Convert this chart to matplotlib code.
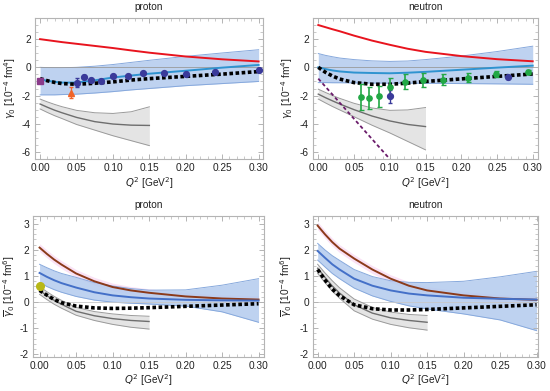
import matplotlib
matplotlib.use("Agg")
import matplotlib.pyplot as plt
from matplotlib.ticker import MultipleLocator, FormatStrFormatter

plt.rcParams['font.family'] = ['Liberation Sans', 'DejaVu Sans']
plt.rcParams['mathtext.fontset'] = 'dejavusans'

# ---------------- data ----------------
q = [0, 0.01, 0.02, 0.03, 0.05, 0.075, 0.10, 0.125, 0.15, 0.20, 0.25, 0.30]
qg = [0, 0.01, 0.02, 0.03, 0.05, 0.075, 0.10, 0.125, 0.15]

# proton gamma0
p_red = [2.0, 1.93, 1.86, 1.79, 1.67, 1.52, 1.37, 1.2, 1.04, 0.77, 0.57, 0.42]
p_band_hi = [0.0, -0.02, -0.03, -0.03, 0.0, 0.08, 0.2, 0.35, 0.5, 0.78, 1.02, 1.25]
p_band_lo = [-1.95, -1.95, -1.95, -1.93, -1.9, -1.82, -1.72, -1.6, -1.5, -1.3, -1.15, -1.0]
p_blue = [-0.85, -0.95, -1.03, -1.08, -1.08, -0.92, -0.72, -0.58, -0.45, -0.24, -0.02, 0.17]
p_black = [-0.8, -0.95, -1.07, -1.15, -1.2, -1.13, -1.03, -0.9, -0.8, -0.64, -0.48, -0.3]
p_gray = [-2.6, -2.83, -3.04, -3.22, -3.55, -3.85, -4.02, -4.1, -4.12]
p_gray_hi = [-2.25, -2.45, -2.63, -2.79, -3.05, -3.22, -3.27, -3.15, -2.8]
p_gray_lo = [-2.95, -3.2, -3.43, -3.63, -4.05, -4.45, -4.85, -5.2, -5.55]
p_data_x = [0.051, 0.060, 0.070, 0.084, 0.100, 0.121, 0.141, 0.170, 0.200, 0.240, 0.300]
p_data_y = [-1.08, -0.65, -0.92, -1.0, -0.6, -0.6, -0.38, -0.42, -0.45, -0.3, -0.18]
p_data_e = [0.3, 0.12, 0.1, 0.1, 0.08, 0.08, 0.08, 0.08, 0.1, 0.1, 0.1]
p_sq = (0.0, -0.95)
p_tri = (0.043, -1.8, 0.4)

# neutron gamma0
n_red = [3.0, 2.85, 2.7, 2.56, 2.25, 1.9, 1.6, 1.32, 1.1, 0.8, 0.58, 0.43]
n_band_hi = [0.98, 0.85, 0.75, 0.66, 0.55, 0.46, 0.42, 0.45, 0.55, 0.8, 1.12, 1.5]
n_band_lo = [-1.08, -1.08, -1.09, -1.09, -1.1, -1.11, -1.12, -1.12, -1.13, -1.15, -1.17, -1.2]
n_blue = [0.0, -0.12, -0.22, -0.29, -0.37, -0.4, -0.42, -0.38, -0.32, -0.17, -0.02, 0.12]
n_black = [0.0, -0.35, -0.62, -0.83, -1.08, -1.2, -1.2, -1.12, -1.0, -0.82, -0.64, -0.47]
n_gray = [-1.9, -2.15, -2.38, -2.6, -3.0, -3.45, -3.8, -4.05, -4.2]
n_gray_hi = [-1.55, -1.78, -2.0, -2.2, -2.55, -2.88, -3.05, -3.02, -2.85]
n_gray_lo = [-2.25, -2.52, -2.78, -3.02, -3.5, -4.1, -4.65, -5.25, -5.85]
n_dash_x = [0.0, 0.10]
n_dash_y = [-0.8, -6.5]
n_green_x = [0.060, 0.071, 0.085, 0.101, 0.121, 0.146, 0.174, 0.209, 0.249, 0.293]
n_green_y = [-2.12, -2.16, -2.05, -1.36, -1.01, -0.87, -0.87, -0.75, -0.47, -0.33]
n_green_e = [0.92, 0.79, 0.73, 0.59, 0.56, 0.5, 0.41, 0.32, 0.24, 0.15]
n_navy_x = [0.101, 0.266]
n_navy_y = [-2.05, -0.7]
n_navy_e = [0.45, 0.1]

# proton gamma0-bar
pb_brown = [2.09, 1.85, 1.63, 1.44, 1.1, 0.8, 0.58, 0.45, 0.36, 0.22, 0.14, 0.1]
pb_band_hi = [1.45, 1.32, 1.2, 1.1, 0.95, 0.75, 0.62, 0.52, 0.46, 0.47, 0.65, 0.9]
pb_band_lo = [0.75, 0.6, 0.48, 0.38, 0.22, 0.08, 0.0, -0.04, -0.07, -0.15, -0.37, -0.77]
pb_blue = [1.12, 0.97, 0.84, 0.73, 0.56, 0.38, 0.26, 0.19, 0.14, 0.09, 0.07, 0.06]
pb_black = [0.45, 0.27, 0.1, -0.02, -0.15, -0.22, -0.24, -0.23, -0.21, -0.16, -0.11, -0.06]
pb_gray = [0.45, 0.25, 0.07, -0.08, -0.35, -0.52, -0.63, -0.7, -0.74]
pb_gray_hi = [0.6, 0.4, 0.22, 0.07, -0.2, -0.36, -0.45, -0.51, -0.54]
pb_gray_lo = [0.3, 0.1, -0.08, -0.23, -0.5, -0.7, -0.85, -0.96, -1.03]
pb_point = (0.0, 0.6)

# neutron gamma0-bar
nb_brown = [2.93, 2.6, 2.3, 2.05, 1.67, 1.25, 0.9, 0.63, 0.45, 0.26, 0.14, 0.09]
nb_band_hi = [2.25, 2.0, 1.78, 1.6, 1.25, 0.98, 0.82, 0.76, 0.75, 0.8, 0.97, 1.18]
nb_band_lo = [1.61, 1.35, 1.1, 0.9, 0.54, 0.24, 0.03, -0.14, -0.26, -0.45, -0.68, -1.09]
nb_blue = [1.96, 1.7, 1.45, 1.25, 0.9, 0.63, 0.45, 0.33, 0.26, 0.17, 0.13, 0.1]
nb_black = [1.25, 0.85, 0.5, 0.25, -0.1, -0.25, -0.3, -0.3, -0.28, -0.22, -0.16, -0.1]
nb_gray = [1.3, 0.95, 0.62, 0.35, -0.1, -0.42, -0.6, -0.7, -0.77]
nb_gray_hi = [1.45, 1.12, 0.82, 0.55, 0.12, -0.2, -0.38, -0.47, -0.51]
nb_gray_lo = [1.1, 0.75, 0.42, 0.15, -0.33, -0.65, -0.85, -0.98, -1.07]

pink_halfwidth = 0.15

# ---------------- style ----------------
RED = '#e8141e'
BAND = '#b3cbee'
BAND_EDGE = '#86a8dc'
BLUE_TOP = '#2f93d0'
BLUE_BOT = '#4470c8'
BROWN = '#8b3a1a'
PINK = '#f8d6f2'
GFILL = '#e2e2e2'
GEDGE = '#9a9a9a'
GCENT = '#6e6e6e'
NAVY = '#3a3a9a'
GREEN = '#22a845'
FRAME = '#b4b4b4'
TXT = '#222222'
FS = 7.3

fig = plt.figure(figsize=(5.5, 3.91), dpi=100)
W, H = 550.0, 391.0


def make_ax(l, r, t, b):
    return fig.add_axes([l / W, 1 - b / H, (r - l) / W, (b - t) / H])


axes = [make_ax(35, 263, 18, 159), make_ax(313, 538, 18, 159),
        make_ax(33, 264, 216, 357), make_ax(313, 538, 216, 357)]
xlims = [(-0.007, 0.306), (-0.0074, 0.3074), (-0.009, 0.3075), (-0.0064, 0.302)]
titles = ['proton', 'neutron', 'proton', 'neutron']
ylab_x = [-0.11, -0.116, -0.1, -0.115]
xlab_y = [-0.17, -0.17, -0.163, -0.163]


def frame(ax, top):
    for s in ax.spines.values():
        s.set_color(FRAME)
        s.set_linewidth(0.8)
    ax.tick_params(which='both', direction='in', color=FRAME, top=True, right=True,
                   labelsize=FS, labelcolor=TXT, pad=3)
    ax.tick_params(which='major', length=3.5, width=0.7)
    ax.tick_params(which='minor', length=2, width=0.5)
    ax.xaxis.set_major_locator(MultipleLocator(0.05))
    ax.xaxis.set_minor_locator(MultipleLocator(0.01))
    ax.xaxis.set_major_formatter(FormatStrFormatter('%.2f'))
    if top:
        ax.set_ylim(-6.5, 3.5)
        ax.yaxis.set_major_locator(MultipleLocator(2))
        ax.yaxis.set_minor_locator(MultipleLocator(0.5))
    else:
        ax.set_ylim(-2.1, 3.3)
        ax.yaxis.set_major_locator(MultipleLocator(1))
        ax.yaxis.set_minor_locator(MultipleLocator(0.2))
    ax.yaxis.set_major_formatter(FormatStrFormatter('%g'))


ylabels = [r'$\gamma_0$ [10$^{-4}$ fm$^4$]', r'$\gamma_0$ [10$^{-4}$ fm$^4$]',
           r'$\overline{\gamma}_0$ [10$^{-4}$ fm$^6$]', r'$\overline{\gamma}_0$ [10$^{-4}$ fm$^6$]']

for i, ax in enumerate(axes):
    ax.set_xlim(*xlims[i])
    frame(ax, i < 2)
    ax.text(0.5, 1 + 11 / 141, titles[i], transform=ax.transAxes, ha='center',
            va='center', fontsize=FS, color=TXT)
    ax.set_xlabel(r'$Q^2$ [GeV$^2$]', fontsize=FS, color=TXT, va='center')
    ax.xaxis.set_label_coords(0.5, xlab_y[i])
    ax.set_ylabel(ylabels[i], fontsize=FS, color=TXT, va='center')
    ax.yaxis.set_label_coords(ylab_x[i], 0.5)


def blue_band(ax, hi, lo):
    ax.fill_between(q, lo, hi, color=BAND, alpha=0.85, lw=0, zorder=1)
    ax.plot(q, hi, color=BAND_EDGE, lw=0.7, zorder=1.2)
    ax.plot(q, lo, color=BAND_EDGE, lw=0.7, zorder=1.2)


def gray_band(ax, c, hi, lo):
    ax.fill_between(qg, lo, hi, color=GFILL, alpha=0.9, lw=0, zorder=1.5)
    ax.plot(qg, hi, color=GEDGE, lw=0.7, zorder=1.6)
    ax.plot(qg, lo, color=GEDGE, lw=0.7, zorder=1.6)
    ax.plot(qg, c, color=GCENT, lw=1.0, zorder=1.7)


def black_dots(ax, y):
    ax.plot(q, y, color='black', lw=2.6, dashes=(1.0, 0.7), zorder=4)


# ---- top-left: proton gamma0
ax = axes[0]
blue_band(ax, p_band_hi, p_band_lo)
gray_band(ax, p_gray, p_gray_hi, p_gray_lo)
ax.axhline(0, color='#9a9a9a', lw=0.6, zorder=1.3)
ax.plot(q, p_red, color=RED, lw=1.4, zorder=3)
ax.plot(q, p_blue, color=BLUE_TOP, lw=1.4, zorder=3)
black_dots(ax, p_black)
ax.errorbar(p_data_x, p_data_y, yerr=p_data_e, fmt='o', color=NAVY, ms=4.2,
            elinewidth=0.9, capsize=1.5, zorder=5)
ax.plot([p_sq[0]], [p_sq[1]], 's', color='#8a3a8a', ms=4.5, zorder=5, clip_on=False)
ax.errorbar([p_tri[0]], [p_tri[1]], yerr=[p_tri[2]], fmt='^', color='#f0642a', ms=5,
            elinewidth=0.9, capsize=1.5, zorder=5)

# ---- top-right: neutron gamma0
ax = axes[1]
blue_band(ax, n_band_hi, n_band_lo)
gray_band(ax, n_gray, n_gray_hi, n_gray_lo)
ax.axhline(0, color='#9a9a9a', lw=0.6, zorder=1.3)
ax.plot(q, n_red, color=RED, lw=1.4, zorder=3)
ax.plot(q, n_blue, color=BLUE_TOP, lw=1.4, zorder=3)
ax.plot(n_dash_x, n_dash_y, color='#6a1b6a', lw=1.3, dashes=(2, 1.5), zorder=3)
black_dots(ax, n_black)
ax.errorbar(n_green_x, n_green_y, yerr=n_green_e, fmt='o', color=GREEN, ms=3.8,
            elinewidth=1.2, capsize=1.8, zorder=5)
ax.errorbar(n_navy_x, n_navy_y, yerr=n_navy_e, fmt='o', color=NAVY, ms=4.2,
            elinewidth=1.0, capsize=1.5, zorder=5)

# ---- bottom panels
for ax, brown, hi, lo, blue, black, g, ghi, glo in [
        (axes[2], pb_brown, pb_band_hi, pb_band_lo, pb_blue, pb_black, pb_gray, pb_gray_hi, pb_gray_lo),
        (axes[3], nb_brown, nb_band_hi, nb_band_lo, nb_blue, nb_black, nb_gray, nb_gray_hi, nb_gray_lo)]:
    ax.fill_between(q, [v - pink_halfwidth for v in brown], [v + pink_halfwidth for v in brown],
                    color=PINK, alpha=0.7, lw=0, zorder=0.8)
    blue_band(ax, hi, lo)
    gray_band(ax, g, ghi, glo)
    ax.axhline(0, color='#c8c8c8', lw=0.6, zorder=1.3)
    ax.plot(q, brown, color=BROWN, lw=1.4, zorder=3)
    ax.plot(q, blue, color=BLUE_BOT, lw=1.4, zorder=3)
    black_dots(ax, black)

axes[2].plot([pb_point[0]], [pb_point[1]], 'o', color='#b8b818', ms=5.5, zorder=6, clip_on=False)

fig.savefig('out.png', dpi=100)
